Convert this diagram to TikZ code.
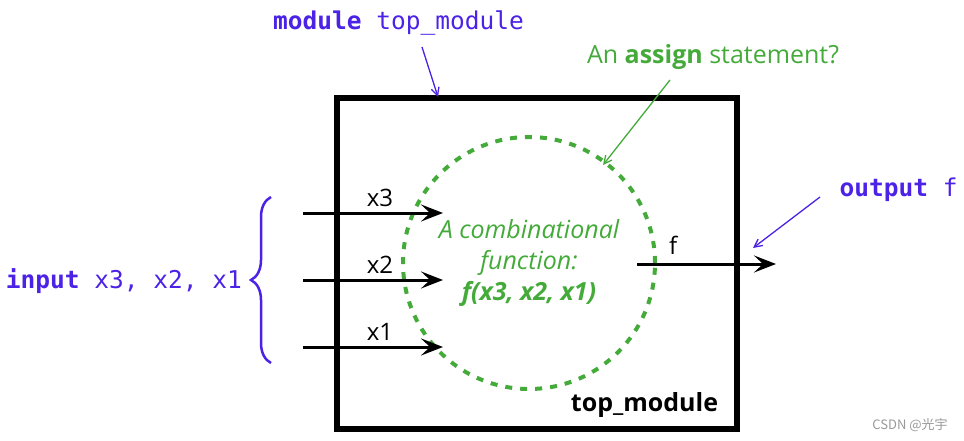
\documentclass[tikz,border=0pt]{standalone}
\usepackage{fontspec}
\setmainfont{Open Sans}
\setmonofont{DejaVu Sans Mono}
\newfontfamily\cjkfont{Noto Sans CJK SC}
\usetikzlibrary{positioning, arrows.meta, decorations.pathreplacing}
\usepackage{xcolor}
\definecolor{VerilogBlue}{HTML}{4B22E6}
\definecolor{CombGreen}{HTML}{44AA3A}

\begin{document}
\begin{tikzpicture}[x=1pt, y=-1pt,
    wire/.style={line width=3pt, -{Stealth[length=22pt, width=17pt, inset=9pt]}},
    sig/.style={font=\fontsize{24}{28}\selectfont, inner sep=0pt},
    code/.style={font=\ttfamily\fontsize{24.5}{28}\selectfont, text=VerilogBlue, inner sep=0pt},
    note/.style={line width=1.3pt, -{Straight Barb[length=8pt, width=8pt]}}]
                \useasboundingbox (0,0) rectangle (964,441);
                \node[draw, line width=6pt, minimum width=400pt, minimum height=331pt] (topbox) at (537,263.5) {};
                \node[circle, draw=CombGreen, line width=4pt, dash pattern=on 7pt off 8pt, minimum size=252pt,
                      text=CombGreen, align=center, font=\itshape\fontsize{25}{31}\selectfont] (comb) at (529,263)
                      {A combinational\\function:\\\textbf{f(x3, x2, x1)}};
                \node[font=\bfseries\fontsize{25}{28}\selectfont, inner sep=0pt] (toplbl) at (644.5,405) {top\_module};
                \foreach \n/\y in {3/213, 2/280, 1/347} {
                    \coordinate (x\n s) at (303,\y);
                    \coordinate (x\n e) at (443,\y);
                    \draw[wire] (x\n s) -- node[sig, pos=0.55, above=5pt] {x\n} (x\n e);
                }
                \coordinate (fs) at (637,264);
                \coordinate (fe) at (776,264);
                \draw[wire] (fs) -- node[sig, pos=0.26, above=8pt] {f} (fe);
                \node[code] (modlbl) at (398.5,23) {\textbf{module} top\_module};
                \coordinate (modtail) at (422,47);
                \coordinate (modtip) at (438,97);
                \draw[note, VerilogBlue] (modtail) -- (modtip);
                \node[code] (inlbl) at (124,281) {\textbf{input} x3, x2, x1};
                \draw[VerilogBlue, line width=2.5pt, decorate, decoration={brace, amplitude=20pt}] (271,363) -- (271,197);
                \node[code] (outlbl) at (898.5,190) {\textbf{output} f};
                \coordinate (outtail) at (820,197);
                \coordinate (outtip) at (753,248);
                \draw[note, VerilogBlue] (outtail) -- (outtip);
                \node[text=CombGreen, font=\fontsize{25}{28}\selectfont, inner sep=0pt] (asgnlbl) at (713,57) {An \textbf{assign} statement?};
                \coordinate (asgntail) at (670,80);
                \coordinate (asgntip) at (603,165);
                \draw[note, CombGreen] (asgntail) -- (asgntip);
                \node[text=gray!80, font=\cjkfont\fontsize{13}{15}\selectfont, inner sep=0pt] (mark) at (910,425) {CSDN @光宇};
            \end{tikzpicture}
\end{document}
